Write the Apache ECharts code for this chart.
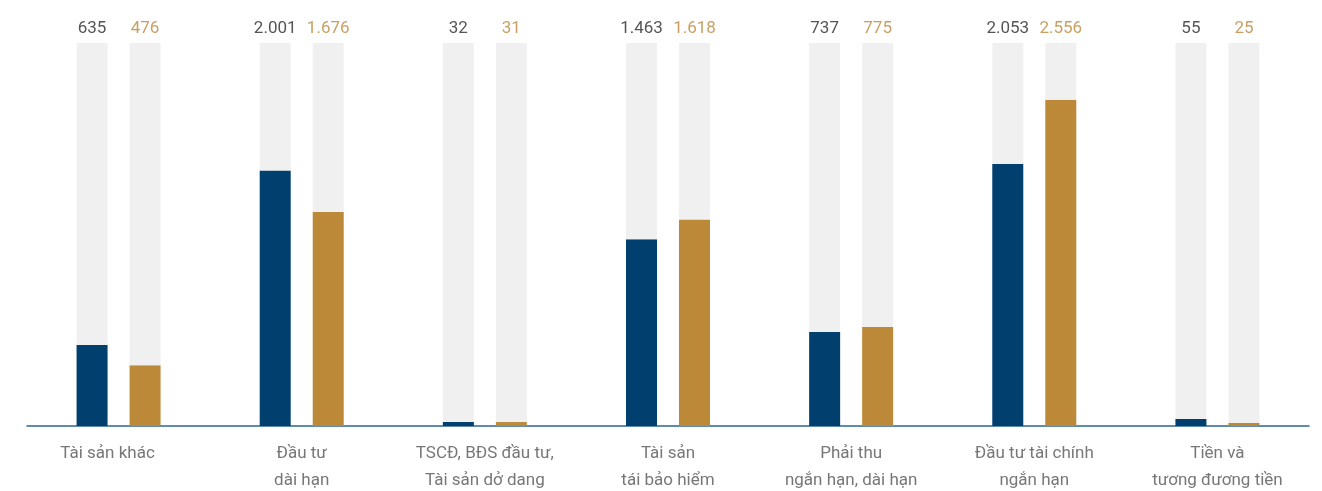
<!DOCTYPE html>
<html>
<head>
<meta charset="utf-8">
<script src="https://cdn.jsdelivr.net/npm/echarts@6/dist/echarts.min.js"></script>
<style>html,body{margin:0;padding:0;background:#fff}#c{width:1322px;height:491px}</style>
</head>
<body>
<div id="c"></div>
<script>
const categories = ['Tài sản khác', 'Đầu tư\ndài hạn', 'TSCĐ, BĐS đầu tư,\nTài sản dở dang', 'Tài sản\ntái bảo hiểm', 'Phải thu\nngắn hạn, dài hạn', 'Đầu tư tài chính\nngắn hạn', 'Tiền và\ntương đương tiền'];
const seriesA = [635, 2001, 32, 1463, 737, 2053, 55];
const seriesB = [476, 1676, 31, 1618, 775, 2556, 25];
const axisMax = 3000;

const fmt = v => v.toLocaleString('de-DE');
const FONT = 'Roboto';

function pair(values, color, labelColor, stack) {
  return [
    {
      type: 'bar', stack: stack, data: values, barWidth: 31,
      itemStyle: { color: color }, silent: true
    },
    {
      type: 'bar', stack: stack, barWidth: 31,
      data: values.map(v => ({ value: axisMax - v, orig: v })),
      itemStyle: { color: '#f0f0f0' }, silent: true,
      label: {
        show: true, position: 'top', distance: 6,
        fontFamily: FONT, fontSize: 17, color: labelColor,
        formatter: p => fmt(p.data.orig)
      }
    }
  ];
}

const chart = echarts.init(document.getElementById('c'));
chart.setOption({
  animation: false,
  grid: { left: 27, right: 13, top: 43, bottom: 65, containLabel: false, outerBoundsMode: 'none' },
  xAxis: {
    type: 'category',
    data: categories.map((c, i) => i === 0 ? { value: c, textStyle: { padding: [0, 22, 0, 0] } } : c),
    axisLine: { lineStyle: { color: '#2b6696', width: 1.5 } },
    axisTick: { show: false },
    axisLabel: { fontFamily: FONT, fontSize: 17, color: '#777', lineHeight: 27, margin: 14 }
  },
  yAxis: { type: 'value', min: 0, max: axisMax, show: false, splitLine: { show: false } },
  series: [
    ...pair(seriesA, '#003f6e', '#555555', 'a'),
    ...pair(seriesB, '#bb8937', '#c9a062', 'b')
  ].map((s, i) => Object.assign(s, i >= 2 ? {} : { barGap: '71%' }))
});
</script>
</body>
</html>
